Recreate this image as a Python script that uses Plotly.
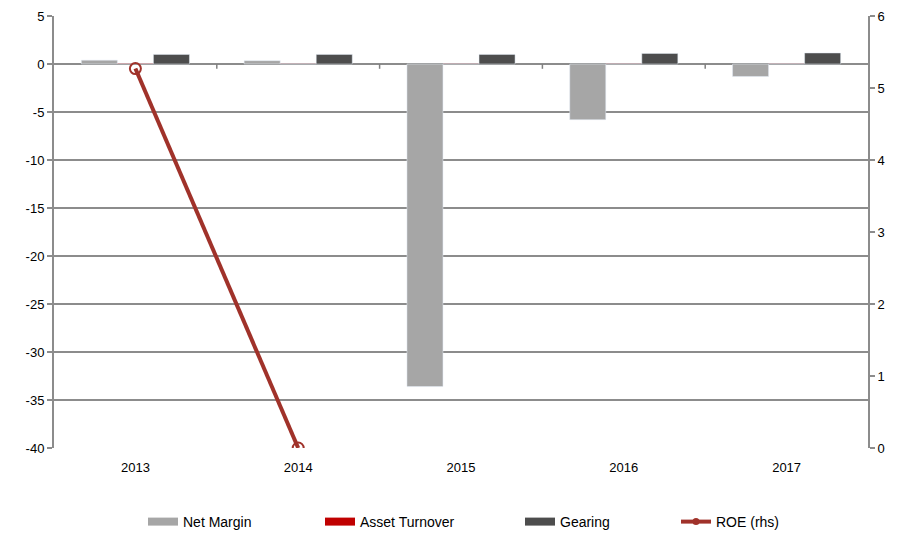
import plotly.graph_objects as go

years = ["2013", "2014", "2015", "2016", "2017"]
net_margin = [0.4, 0.35, -33.6, -5.8, -1.3]
asset_turnover = [0.06, 0.03, 0.02, 0.02, 0.03]
gearing = [1.0, 1.0, 1.0, 1.1, 1.15]
roe = [5.27, 0.0, None, None, None]

left_ticks = [5, 0, -5, -10, -15, -20, -25, -30, -35, -40]
left_labels = ["5", "0", "-5", "-10", "-15", "-20", "-25", "-30", "-35", "-40"]
right_ticks = [0, 1, 2, 3, 4, 5, 6]

c_nm = "#A6A6A6"
c_at = "#C00000"
c_ge = "#4D4D4D"
c_roe = "#A0322A"

W, H = 910, 535

fig = go.Figure()
fig.add_trace(go.Bar(x=years, y=net_margin, name="Net Margin", marker_color=c_nm,
                     showlegend=False))
fig.add_trace(go.Bar(x=years, y=asset_turnover, name="Asset Turnover", marker_color=c_at,
                     showlegend=False))
fig.add_trace(go.Bar(x=years, y=gearing, name="Gearing", marker_color=c_ge,
                     showlegend=False))
fig.add_trace(go.Scatter(x=years, y=roe, name="ROE (rhs)", yaxis="y2", mode="lines+markers",
                         line=dict(color=c_roe, width=4),
                         marker=dict(symbol="circle-open", size=11, color=c_roe,
                                     line=dict(width=2)),
                         cliponaxis=True, showlegend=False))

# legend-only entries mimicking the reference legend swatches, each in its own legend
legend_items = [("Net Margin", c_nm, "legend", 135),
                ("Asset Turnover", c_at, "legend2", 312),
                ("Gearing", c_ge, "legend3", 512),
                ("ROE (rhs)", c_roe, "legend4", 668)]
for nm, col, lg, px in legend_items:
    if nm.startswith("ROE"):
        fig.add_trace(go.Scatter(x=[None], y=[None], mode="lines+markers", name=nm,
                                 line=dict(color=col, width=4), legend=lg,
                                 marker=dict(symbol="circle", size=7, color=col)))
    else:
        fig.add_trace(go.Scatter(x=[None], y=[None], mode="lines", name=nm, legend=lg,
                                 line=dict(color=col, width=8)))
    fig.update_layout({lg: dict(orientation="h", xref="container", yref="container",
                                x=px / W, xanchor="left", y=1 - 514 / H, yanchor="middle",
                                font=dict(size=14), bgcolor="rgba(0,0,0,0)")})

# small category-separator ticks on the zero line
shapes = []
for i in range(len(years) - 1):
    shapes.append(dict(type="line", xref="x", yref="y", x0=i + 0.5, x1=i + 0.5,
                       y0=0, y1=-0.5, line=dict(color="#808080", width=1.5)))
fig.update_layout(shapes=shapes)

fig.update_layout(
    width=W, height=H,
    margin=dict(l=46, r=50, t=8, b=95, autoexpand=False),
    paper_bgcolor="white", plot_bgcolor="white",
    font=dict(family="Liberation Sans, Arial, sans-serif", size=13, color="#000000"),
    barmode="group", bargap=0.336, bargroupgap=0,
    xaxis=dict(type="category", showgrid=False, showline=False, ticks="",
               tickfont=dict(size=13), zeroline=False, automargin=False,
               ticklabelstandoff=10),
    yaxis=dict(range=[-40, 5], tickvals=left_ticks, ticktext=left_labels, showgrid=True,
               gridcolor="#8C8C8C", automargin=False, ticklabeloverflow="allow",
               gridwidth=1.5, zeroline=True, zerolinecolor="#8C8C8C", zerolinewidth=2,
               showline=True, linecolor="#8C8C8C", linewidth=2, ticks="outside",
               ticklen=5, tickcolor="#8C8C8C", tickwidth=1.5, tickfont=dict(size=13)),
    yaxis2=dict(range=[0, 6], tickvals=right_ticks, overlaying="y", side="right",
                showgrid=False, zeroline=False, showline=True, linecolor="#8C8C8C",
                linewidth=2, ticks="outside", ticklen=5, tickcolor="#8C8C8C",
                automargin=False, ticklabeloverflow="allow",
                tickwidth=1.5, tickfont=dict(size=13)),
)

fig.write_html("out.html")
